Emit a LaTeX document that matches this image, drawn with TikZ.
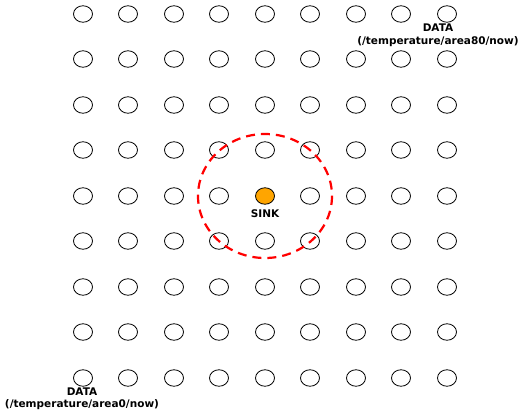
\documentclass[tikz,border=0pt]{standalone}
\usepackage{fontspec}
\setmainfont{DejaVu Sans}
\usetikzlibrary{shapes.geometric}
\definecolor{sinkorange}{RGB}{255,165,0}
\begin{document}
\begin{tikzpicture}[x=1pt,y=-1pt,
  sensor/.style={draw=black,ellipse,minimum width=19pt,minimum height=16.5pt,inner sep=0pt,line width=0.8pt},
  sinknode/.style={sensor,fill=sinkorange},
  lbl/.style={font=\bfseries\fontsize{10.5}{12}\selectfont,inner sep=0pt},
  sinkrange/.style={draw=red,line width=2.2pt,dash pattern=on 9pt off 6pt}]
\useasboundingbox (0,0) rectangle (522,418);
\foreach \c/\x in {1/83,2/128,3/174,4/219,5/265,6/310,7/356,8/401,9/447}{
  \foreach \r/\y in {1/14,2/59,3/105,4/150,5/196,6/241,7/287,8/332,9/378}{
    \ifnum\c=5 \ifnum\r=5 \else \node[sensor] (n\c\r) at (\x,\y) {}; \fi
    \else \node[sensor] (n\c\r) at (\x,\y) {}; \fi
  }
}
\node[sinknode] (sink) at (265,196) {};
\node[lbl] (sinklbl) at (265,214) {SINK};
\draw[sinkrange] (265,196) ellipse [x radius=67, y radius=62];
\node[lbl] (d80) at (438,28) {DATA};
\node[lbl] (p80) at (438,42) {(/temperature/area80/now)};
\node[lbl] (d0) at (82,392) {DATA};
\node[lbl] (p0) at (82,405) {(/temperature/area0/now)};
\end{tikzpicture}
\end{document}
